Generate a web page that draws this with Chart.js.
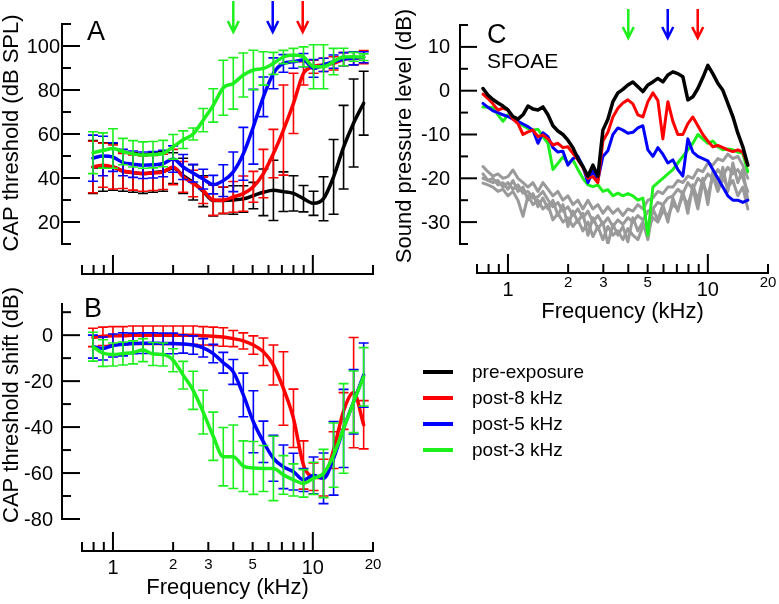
<!DOCTYPE html>
<html>
<head>
<meta charset="utf-8">
<script src="https://cdn.jsdelivr.net/npm/chart.js@4.4.1/dist/chart.umd.min.js"></script>
<style>
html,body{margin:0;padding:0;background:#fff;}
#wrap{position:relative;width:779px;height:604px;overflow:hidden;background:#fff;}
#wrap canvas{position:absolute;left:0;top:0;}
#legend{position:absolute;left:423px;top:359px;font-family:'Liberation Sans',Arial,Helvetica,sans-serif;font-size:19px;color:#000;}
#legend .row{display:flex;align-items:center;height:26px;}
#legend .sw{display:inline-block;width:30px;height:4px;margin-right:19px;}
</style>
</head>
<body>
<div id="wrap">
  <canvas id="cA" width="779" height="604"></canvas>
  <canvas id="cB" width="779" height="604"></canvas>
  <canvas id="cC" width="779" height="604"></canvas>
  <div id="legend"></div>
</div>
<script>
// ---------------- DATA ----------------
const seriesNames = ['pre-exposure', 'post-8 kHz', 'post-5 kHz', 'post-3 kHz'];
const seriesColors = ['#000000', '#ff0000', '#0000ff', '#1ef01e'];
const noiseColor = '#9a9a9a';

// frequencies (kHz) for panels A and B (1/6-octave steps)
const freqAB = [0.794, 0.891, 1, 1.122, 1.26, 1.414, 1.587, 1.782, 2, 2.245,
                2.52, 2.828, 3.175, 3.564, 4, 4.49, 5.04, 5.657, 6.35, 7.127,
                8, 8.98, 10.08, 11.31, 12.7, 14.25, 16, 17.96];

// Panel A: CAP threshold (dB SPL) and error bars
const capPre     = [45, 45, 45, 43, 42.5, 42, 42.5, 43, 44.5, 41, 38, 34, 29.8, 29.8, 30, 30.5, 32, 33.5, 34.4, 33.8, 33, 30.6, 28.5, 30.6, 40.5, 54, 65, 74];
const capPreErr  = [12, 11, 10.6, 9, 9, 9, 9, 9, 7, 8, 8, 7, 7, 6, 6.5, 6, 6, 10.6, 13.7, 9, 8, 6, 5.5, 10, 17, 19, 20, 14.5];
const capP8      = [45, 45.8, 45, 43.2, 42.5, 42, 42.3, 42.8, 45, 40.5, 37.5, 34.4, 30, 29.9, 31.4, 32.9, 36, 42, 51.1, 61.8, 73.9, 87.6, 90.6, 91.4, 92.1, 94, 94.4, 94.9];
const capP8Err   = [11.7, 10, 10, 8, 8, 8, 8, 8, 8, 7, 6, 6, 7, 6, 7, 8, 7, 11, 11, 20.5, 13.7, 5.3, 3, 3, 3, 3, 3, 3];
const capP5      = [49, 50, 49.5, 47, 46.3, 45.8, 46, 46.6, 48.6, 45, 42.2, 39.5, 37, 38.8, 42.8, 51, 63.3, 76.9, 87.6, 92.1, 92.9, 93.6, 89.8, 91.4, 92.9, 94, 94.4, 94.9];
const capP5Err   = [10.5, 9, 6.5, 6, 6, 6, 6, 6, 6, 5.7, 4, 4.5, 4.2, 7.2, 9, 12, 17, 9, 7, 4, 3, 3, 4, 3, 3, 3, 3, 2.5];
const capP3      = [51.5, 52.5, 53.4, 52, 51, 50.4, 50.6, 51.1, 54.2, 57.4, 60, 66.3, 73, 81, 83, 86.8, 89.1, 89.8, 92.1, 95, 95.9, 95.1, 90.6, 90.6, 92.9, 95, 95.1, 94.9];
const capP3Err   = [9.5, 8, 9, 6, 6, 6, 6, 6, 5.6, 4, 2.7, 5.3, 7.6, 12.5, 11.7, 10, 9, 7.6, 5, 3, 3, 4.5, 10, 10, 6, 4, 2, 1.5];

// Panel B: CAP threshold shift (dB) and error bars
const shiftP8    = [-1, -0.5, -0.3, -0.3, 0, 0, 0, 0, 0, 0, 0, -0.3, -0.5, -0.8, -1.5, -2.5, -4.3, -7.2, -13, -23.2, -36.2, -56.5, -61.6, -62, -50, -33, -25, -39];
const shiftP8Err = [4, 4, 4, 4, 4, 4, 4, 4, 4, 4, 4, 4, 4, 4, 3.5, 3.5, 4, 6, 8.7, 16, 12.7, 10.5, 6, 8, 8, 8, 24, 10.5];
const shiftP5    = [-5, -5.8, -4.5, -4, -3.6, -3.5, -3.5, -3.6, -3.6, -3.8, -4.3, -5.5, -8, -12, -16, -26, -37.7, -46.4, -53.6, -57.3, -59.4, -63, -61, -62.3, -53.6, -40.6, -29, -17.4];
const shiftP5Err = [5, 5, 5, 5, 4.5, 4.5, 4.5, 4.5, 4.5, 4, 4, 4, 4, 4.5, 5.4, 9.5, 13.5, 9, 10, 9.5, 8, 5, 8, 11, 16, 17, 14, 14];
const shiftP3    = [-5, -7.8, -8.4, -8, -7.5, -6.5, -8.2, -8.4, -10.9, -17.4, -24, -33.5, -44, -52.9, -52.9, -57, -57.8, -58, -58, -60.8, -63, -64.5, -62.3, -60.2, -52.2, -40.6, -29, -18.1];
const shiftP3Err = [6.3, 5.8, 5, 5, 5, 5, 5, 5, 5, 6, 8.3, 9.5, 10.5, 12.7, 13.8, 11, 11.5, 10, 14, 8.4, 7, 6, 7, 10.5, 14, 19.5, 13.4, 12.7];

// Panel C: SFOAE level (dB SPL)
const freqC = [0.750, 0.794, 0.841, 0.891, 0.944, 1.000, 1.059, 1.122, 1.189, 1.259,
               1.334, 1.413, 1.496, 1.585, 1.679, 1.778, 1.884, 1.995, 2.113, 2.239,
               2.371, 2.512, 2.661, 2.818, 2.985, 3.162, 3.350, 3.548, 3.758, 3.981,
               4.217, 4.467, 4.732, 5.012, 5.309, 5.623, 5.957, 6.310, 6.683, 7.079,
               7.499, 7.943, 8.414, 8.913, 9.441, 10.00, 10.59, 11.22, 11.89, 12.59,
               13.34, 14.13, 14.96, 15.85];
const oaePre = [0.5, -1, -2, -2.8, -3.5, -4.4, -5.9, -6.5, -5.5, -3.5, -4.2, -4.4, -3.7, -5.5, -8, -9.2, -10, -11.3, -13, -15.5, -17.3, -19.5, -17, -19.5, -9, -6.5, -2.5, -0.5, 0.3, 1.3, 2, 0.9, -0.2, 1.3, 2, 2.8, 2, 3.6, 4.3, 3.9, 3.2, -2.1, -1.4, 0.5, 3, 5.8, 3.9, 1.7, 0.1, -2.9, -5.9, -9.7, -12.8, -17];
const oaeP8  = [-0.8, -1.8, -3, -4.4, -4, -4.4, -6.5, -7.5, -10, -9.4, -9, -10.5, -10.1, -11, -12.4, -12, -13, -12.8, -14.3, -15.8, -17.5, -20, -19.6, -21, -11.5, -9.5, -6, -4, -2.8, -2.1, -3, -5.5, -6, -2.5, -0.5, -2.2, -11, -2.5, -7, -10, -10, -7.5, -6, -8, -10, -11.5, -12.8, -12.5, -13, -13.5, -13.9, -13.5, -14, -17];
const oaeP5  = [-2.9, -3.8, -4.6, -5, -5.5, -5.9, -6.5, -7, -7.6, -8.2, -9, -12, -9.6, -10.5, -13, -14, -13.8, -17, -15.5, -15, -17.3, -21, -18.3, -20.4, -15, -13.7, -10, -8.5, -9, -9.7, -9.5, -8.5, -8, -13.5, -15, -13, -14.5, -16.5, -15.8, -18, -19.5, -11, -14, -15, -15.5, -16, -18, -20, -22, -24, -25, -25, -25.5, -25];
const oaeP3  = [-3.7, -3.8, -3.9, -5.5, -7, -5.5, -6, -7.1, -8, -8.6, -9, -8.8, -10.5, -12, -18, -16.6, -15.1, -16.5, -15.8, -18, -20, -21.5, -21.9, -21.5, -23, -22.6, -24, -23.4, -24, -23.5, -24, -25, -24.5, -33, -22, -21, -20, -19, -18, -16.5, -15, -13.5, -12, -10, -11, -12, -11.5, -12.8, -13.5, -13.3, -13.5, -14, -14.3, -18.5];
const noise1 = [-17.3, -18.5, -19.5, -19, -20, -19.6, -18.1, -20, -21, -22, -21, -23, -21, -22.5, -24, -23, -25, -24, -26, -25, -27, -25, -27, -26, -28, -26.5, -28, -27, -28.5, -27, -27.5, -26, -27, -25, -24.5, -23, -23.5, -22, -22, -20.5, -21, -19.5, -20, -18, -18.5, -16.5, -17, -15.5, -16, -14.5, -15.5, -15, -17, -20];
const noise2 = [-20, -20.5, -21, -20.5, -22, -21, -22.5, -21.5, -23.4, -23, -24.5, -24.2, -23, -24.9, -26.5, -25.5, -27.5, -26.5, -28.5, -27, -29, -27.5, -30, -28.5, -30.5, -29, -31, -29.5, -30.5, -29, -30, -28.5, -29.5, -27.5, -27, -25.5, -26, -24.5, -24, -22.5, -23.5, -21, -22.5, -20, -21, -19, -20, -18, -19.5, -17.5, -19, -18, -20, -23];
const noise3 = [-21.1, -21.5, -22, -23, -22.5, -24, -23, -25, -28.7, -24, -26, -25, -27, -26, -29.5, -28, -30, -29, -31, -29.5, -32, -30, -33.3, -31, -34, -31, -33, -32, -34, -31.5, -33, -34, -31, -32, -29, -30, -27.5, -28.5, -26, -27, -24, -26, -22.5, -27, -21, -24, -19.5, -23, -20, -22, -20.5, -24, -22, -27];
const noise4 = [-19, -20.5, -20, -21.5, -21, -22.5, -20.5, -23, -22, -25, -23.5, -26.5, -24.5, -27, -25, -28.5, -26, -31, -27.5, -30, -28, -33, -29, -31.5, -30, -35, -30.5, -33, -31, -34.5, -29, -32, -30, -34, -27, -29.5, -26, -30, -24.5, -27.5, -23, -28, -21.5, -25, -20, -26, -18.5, -22, -17.5, -23, -16.5, -21, -18, -25];

// axis tick values and labels
const xTickVals   = [0.7, 0.8, 0.9, 1, 2, 3, 4, 5, 6, 7, 8, 9, 10, 20];
const xMajorVals  = [1, 10];
const xBigLabels  = [1, 10];
const xSmallLabels = [2, 3, 5, 20];
const yTicksA  = [10, 20, 30, 40, 50, 60, 70, 80, 90, 100, 110];
const yLabelsA = [20, 40, 60, 80, 100];
const yTicksB  = [-80, -70, -60, -50, -40, -30, -20, -10, 0, 10];
const yLabelsB = [-80, -60, -40, -20, 0];
const yTicksC  = [-35, -30, -25, -20, -15, -10, -5, 0, 5, 10, 15];
const yLabelsC = [-30, -20, -10, 0, 10];
const arrowFreqs  = [4.0, 6.3, 8.9];
const arrowColors = ['#1ef01e', '#0000ff', '#ff0000'];

// ---------------- RENDERING ----------------
const FONT = "'Liberation Sans', Arial, Helvetica, sans-serif";
const W = 779, H = 604;

function pts(xs, ys) { return xs.map((x, i) => ({ x: x, y: ys[i] })); }

const figPlugin = {
  id: 'fig',
  afterDatasetDraw(chart, args) {
    const ds = chart.data.datasets[args.index];
    if (!ds.errors) return;
    const ctx = chart.ctx, xs = chart.scales.x, ys = chart.scales.y;
    ctx.save();
    ctx.strokeStyle = ds.borderColor;
    ctx.lineWidth = 1.6;
    ds.data.forEach((p, i) => {
      const e = ds.errors[i];
      const px = xs.getPixelForValue(p.x);
      const t = ys.getPixelForValue(p.y + e), b = ys.getPixelForValue(p.y - e);
      ctx.beginPath();
      ctx.moveTo(px, t); ctx.lineTo(px, b);
      ctx.moveTo(px - 5, t); ctx.lineTo(px + 5, t);
      ctx.moveTo(px - 5, b); ctx.lineTo(px + 5, b);
      ctx.stroke();
    });
    ctx.restore();
  },
  afterDraw(chart, args, o) {
    const ctx = chart.ctx, xs = chart.scales.x, ys = chart.scales.y;
    ctx.save();
    ctx.strokeStyle = '#000'; ctx.fillStyle = '#000'; ctx.lineWidth = 2; ctx.lineCap = 'butt';
    // y axis
    const ax = o.yAxisX;
    ctx.beginPath();
    ctx.moveTo(ax, ys.getPixelForValue(ys.min)); ctx.lineTo(ax, ys.getPixelForValue(ys.max));
    ctx.stroke();
    ctx.font = '20px ' + FONT; ctx.textAlign = 'right'; ctx.textBaseline = 'middle';
    o.yTicks.forEach(v => {
      const py = ys.getPixelForValue(v);
      const major = o.yLabels.includes(v);
      ctx.beginPath(); ctx.moveTo(ax - 1, py); ctx.lineTo(ax + (major ? o.majorLen : o.minorLen), py); ctx.stroke();
      if (major) ctx.fillText(String(v), o.yLabelRight, py + 1);
    });
    // x axis
    const ay = o.xAxisY;
    ctx.beginPath();
    ctx.moveTo(xs.getPixelForValue(xs.min) - 1, ay); ctx.lineTo(xs.getPixelForValue(xs.max) + 1, ay);
    ctx.stroke();
    xTickVals.forEach(v => {
      const px = xs.getPixelForValue(v);
      const len = xMajorVals.includes(v) ? 19 : 9;
      ctx.beginPath(); ctx.moveTo(px, ay); ctx.lineTo(px, ay - len); ctx.stroke();
    });
    if (o.xLabels) {
      ctx.textAlign = 'center'; ctx.textBaseline = 'middle';
      ctx.font = '20px ' + FONT;
      xBigLabels.forEach(v => ctx.fillText(String(v), xs.getPixelForValue(v), ay + 17.5));
      ctx.font = '15px ' + FONT;
      xSmallLabels.forEach(v => ctx.fillText(String(v), xs.getPixelForValue(v), ay + o.smallOff));
      ctx.font = '22px ' + FONT; ctx.textBaseline = 'alphabetic';
      ctx.fillText('Frequency (kHz)', (xs.left + xs.right) / 2, o.xTitleBase);
    }
    // y title
    ctx.save();
    ctx.translate(o.yTitleX, o.yTitleY);
    ctx.rotate(-Math.PI / 2);
    ctx.font = '22px ' + FONT; ctx.textAlign = 'center'; ctx.textBaseline = 'middle';
    ctx.fillText(o.yTitle, 0, 0);
    ctx.restore();
    // panel letter
    ctx.font = '27px ' + FONT; ctx.textAlign = 'left'; ctx.textBaseline = 'alphabetic';
    ctx.fillText(o.letter, o.letterX, o.letterY);
    if (o.sub) { ctx.font = '21px ' + FONT; ctx.fillText(o.sub, o.letterX, o.subY); }
    // arrows
    if (o.arrows) {
      ctx.lineWidth = 2.5;
      arrowFreqs.forEach((f, i) => {
        const px = xs.getPixelForValue(f);
        ctx.strokeStyle = arrowColors[i];
        ctx.beginPath();
        ctx.moveTo(px, o.arrowTop); ctx.lineTo(px, o.arrowBot);
        ctx.moveTo(px - 5.5, o.arrowBot - 11); ctx.lineTo(px, o.arrowBot); ctx.lineTo(px + 5.5, o.arrowBot - 11);
        ctx.stroke();
      });
    }
    ctx.restore();
  }
};

function makeChart(id, area, ymin, ymax, datasets, opts, smooth) {
  return new Chart(document.getElementById(id), {
    type: 'line',
    data: { datasets: datasets },
    options: {
      responsive: false,
      animation: false,
      events: [],
      layout: { padding: { left: area.l, right: W - area.r, top: area.t, bottom: H - area.b } },
      scales: {
        x: { type: 'logarithmic', min: 0.7, max: 20, display: false },
        y: { type: 'linear', min: ymin, max: ymax, display: false }
      },
      elements: {
        point: { radius: 0 },
        line: { tension: 0, cubicInterpolationMode: smooth ? 'monotone' : 'default', borderCapStyle: 'round', borderJoinStyle: 'round' }
      },
      plugins: { legend: { display: false }, tooltip: { enabled: false }, fig: opts }
    },
    plugins: [figPlugin]
  });
}

function lineDs(label, data, color, width, errs) {
  const d = { label: label, data: data, borderColor: color, backgroundColor: color, borderWidth: width, fill: false };
  if (errs) d.errors = errs;
  return d;
}

// Panel A
makeChart('cA', { l: 82, r: 373, t: 24, b: 244 }, 10, 110, [
  lineDs(seriesNames[3], pts(freqAB, capP3), seriesColors[3], 3.5, capP3Err),
  lineDs(seriesNames[2], pts(freqAB, capP5), seriesColors[2], 3.5, capP5Err),
  lineDs(seriesNames[1], pts(freqAB, capP8), seriesColors[1], 3.5, capP8Err),
  lineDs(seriesNames[0], pts(freqAB, capPre), seriesColors[0], 3.5, capPreErr)
], {
  yAxisX: 62, yTicks: yTicksA, yLabels: yLabelsA, yLabelRight: 60, majorLen: 18, minorLen: 9,
  xAxisY: 274, xLabels: false,
  yTitle: 'CAP threshold (dB SPL)', yTitleX: 12, yTitleY: 133,
  letter: 'A', letterX: 87, letterY: 40,
  arrows: true, arrowTop: 1, arrowBot: 32
}, true);

// Panel B
makeChart('cB', { l: 82, r: 373, t: 303, b: 519 }, -80, 14, [
  lineDs(seriesNames[3], pts(freqAB, shiftP3), seriesColors[3], 3.5, shiftP3Err),
  lineDs(seriesNames[2], pts(freqAB, shiftP5), seriesColors[2], 3.5, shiftP5Err),
  lineDs(seriesNames[1], pts(freqAB, shiftP8), seriesColors[1], 3.5, shiftP8Err)
], {
  yAxisX: 62, yTicks: yTicksB, yLabels: yLabelsB, yLabelRight: 53, majorLen: 18, minorLen: 9,
  xAxisY: 551, xLabels: true, smallOff: 14, xTitleBase: 594,
  yTitle: 'CAP threshold shift (dB)', yTitleX: 12, yTitleY: 405,
  letter: 'B', letterX: 84, letterY: 317,
  arrows: false
}, true);

// Panel C (noise-floor traces last in the list so they are drawn underneath)
makeChart('cC', { l: 477, r: 768, t: 25, b: 244 }, -35, 15, [
  lineDs(seriesNames[0], pts(freqC, oaePre), seriesColors[0], 3.5, null),
  lineDs(seriesNames[1], pts(freqC, oaeP8), seriesColors[1], 3, null),
  lineDs(seriesNames[2], pts(freqC, oaeP5), seriesColors[2], 3, null),
  lineDs(seriesNames[3], pts(freqC, oaeP3), seriesColors[3], 3, null),
  lineDs('noise floor', pts(freqC, noise1), noiseColor, 3, null),
  lineDs('noise floor', pts(freqC, noise2), noiseColor, 3, null),
  lineDs('noise floor', pts(freqC, noise3), noiseColor, 3, null),
  lineDs('noise floor', pts(freqC, noise4), noiseColor, 3, null)
], {
  yAxisX: 460, yTicks: yTicksC, yLabels: yLabelsC, yLabelRight: 450, majorLen: 17, minorLen: 8,
  xAxisY: 273, xLabels: true, smallOff: 9.5, xTitleBase: 318,
  yTitle: 'Sound pressure level (dB)', yTitleX: 405, yTitleY: 136,
  letter: 'C', letterX: 487, letterY: 43, sub: 'SFOAE', subY: 68,
  arrows: true, arrowTop: 9, arrowBot: 38
}, false);

// Legend
const legend = document.getElementById('legend');
seriesNames.forEach((n, i) => {
  const row = document.createElement('div'); row.className = 'row';
  const sw = document.createElement('span'); sw.className = 'sw'; sw.style.background = seriesColors[i];
  const tx = document.createElement('span'); tx.textContent = n;
  row.appendChild(sw); row.appendChild(tx); legend.appendChild(row);
});
</script>
</body>
</html>
